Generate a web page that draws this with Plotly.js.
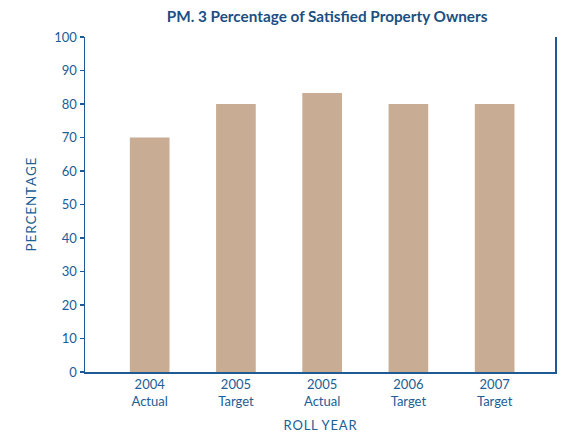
<!DOCTYPE html>
<html><head><meta charset="utf-8">
<script src="https://cdn.plot.ly/plotly-3.0.1.min.js"></script>
<style>html,body{margin:0;padding:0;background:#fff}#c{width:561px;height:433px}</style>
</head><body><div id="c"></div>
<script>
const categories = ["2004<br>Actual", "2005<br>Target", "2005<br>Actual", "2006<br>Target", "2007<br>Target"];
const values = [70, 80, 83.3, 80, 80];
const yTicks = [0, 10, 20, 30, 40, 50, 60, 70, 80, 90, 100];

const axisColor = "#1f5a94";
const textColor = "#215d96";
const fontFam = "Lato, 'Open Sans', sans-serif";
const spaced = s => s.split(" ").map(w => w.split("").join("\u200A")).join(" \u200A");

Plotly.newPlot("c", [{
  type: "bar",
  x: categories.map((_, i) => i),
  y: values,
  width: 0.46,
  marker: {color: "#c8ad94"},
  hoverinfo: "none"
}], {
  width: 561, height: 433,
  margin: {l: 85, r: 6, t: 37, b: 61},
  paper_bgcolor: "#fff", plot_bgcolor: "#fff",
  showlegend: false,
  font: {family: fontFam, color: textColor, size: 13},
  title: {text: "<b>PM. 3 Percentage of Satisfied Property Owners</b>", font: {size: 15.3, color: "#1b4f82", family: fontFam}, x: 0.583, xanchor: "center", y: 0.962, yanchor: "middle"},
  xaxis: {
    range: [-0.75, 4.7],
    tickmode: "array", tickvals: categories.map((_, i) => i), ticktext: categories,
    ticks: "", showgrid: false, zeroline: false,
    showline: true, linecolor: axisColor, linewidth: 1.5,
    tickfont: {size: 13, color: textColor},
    title: {text: spaced("ROLL YEAR"), font: {size: 13, color: textColor}, standoff: 29}
  },
  yaxis: {
    range: [0, 100],
    tickmode: "array", tickvals: yTicks,
    ticks: "outside", ticklen: 4, tickcolor: axisColor, tickwidth: 1.5,
    showgrid: false, zeroline: false,
    showline: true, mirror: true, linecolor: axisColor, linewidth: 1.5,
    tickfont: {size: 13, color: textColor},
    title: {text: spaced("PERCENTAGE"), font: {size: 13.5, color: textColor}, standoff: 14}
  },
  bargap: 0.5
}, {staticPlot: true});
</script></body></html>
